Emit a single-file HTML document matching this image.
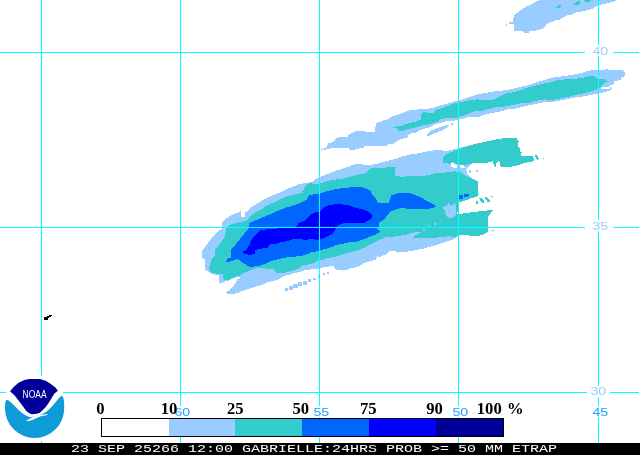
<!DOCTYPE html>
<html>
<head>
<meta charset="utf-8">
<title>GABRIELLE 24HRS PROB &gt;= 50 MM ETRAP</title>
<style>
html,body{margin:0;padding:0;background:#fff;}
body{width:640px;height:455px;overflow:hidden;position:relative;font-family:"Liberation Sans",sans-serif;}
svg{position:absolute;left:0;top:0;display:block;}
.g{stroke:#00ffff;stroke-width:1;shape-rendering:crispEdges;fill:none;}
.lon{font-family:"Liberation Sans",sans-serif;font-size:10.6px;fill:#1e9eff;}
.lat{font-family:"Liberation Sans",sans-serif;font-size:10.6px;fill:#99ccff;}
.lg{font-family:"Liberation Serif",serif;font-weight:bold;font-size:16px;fill:#000;text-anchor:middle;}
.bar{font-family:"Liberation Mono",monospace;font-size:11.6px;fill:#fff;}
.noaa{font-family:"Liberation Sans",sans-serif;font-size:10.5px;fill:#fff;}
</style>
</head>
<body>
<svg width="640" height="455" viewBox="0 0 640 455">
<rect width="640" height="455" fill="#ffffff"/>
<g id="blobs" shape-rendering="crispEdges">
<polygon fill="#99ccff" points="540,0 535,1.9 531.25,4.4 526.9,6.25 522.5,8.75 518.75,11.9 515,14.4 513,18.75 512.5,21.9 509.4,22.5 509.4,24 513.5,23.5 514.4,31.25 522.5,31.25 525,33 528.75,33 529.4,31.25 535.6,31.25 536.25,30 541.25,29.4 545,26.9 546.25,24.4 550,22.5 555,20.6 560,19.4 563.75,16.9 567.5,15 572.5,14.4 576.25,12.5 580,11.9 587.5,10 592.5,8.75 597.5,5.6 605,3.75 612.5,1.9 617.5,0"/>
<polygon fill="#99ccff" points="506,24 507,24 507,26 506,26"/>
<polygon fill="#33cccc" points="572,5 574,4 577,1 580,0.5 580,4 577,5"/>
<polygon fill="#33cccc" points="555,8 558,5 560,4.5 561,6 560,8.5"/>
<polygon fill="#33cccc" points="584,0 591,0 590,2 585,1.5"/>
<polygon fill="#99ccff" points="321,149 326,148 328.5,143 331,143 334.75,140.6 336,138.75 339,136.9 347.9,136.9 348.5,135 352.25,133 356,131.25 363.5,130.6 366,132.5 374.75,131.9 375.4,128 376,123 381,121.9 382.25,120.6 387.25,119.4 391,116.9 396.25,115 402.5,113 410,110 418.75,109.4 427.5,108.75 433.75,107.5 440,105.6 447.5,103.75 455,101.25 462.5,99.4 467.5,97.5 471.25,96.25 477.5,94.4 485,93 495,91.25 502.5,90.6 510,89.4 520,86.9 526.25,85.6 532.5,83.75 540,81.25 546.25,79.4 550,78 557.5,76.9 567.5,75.6 575,74.4 582.5,72.5 591.25,70 600,70 606.25,69.4 615,70 622.5,70 625,72.5 625.6,76.25 621.9,76.9 621.25,79.4 617.5,80.6 613.75,81.25 613.75,84.4 610,85 609,86.5 611.9,88 611.25,90 606.25,91.9 600,93 593.75,94.4 587.5,95.6 581.25,96.9 575,97.5 568.75,98.75 562.5,100 556.25,101.25 550,102.5 545,101.9 537.5,103.75 530,105 522.5,106.9 515,108.75 507.5,109.4 501.25,111.25 492.5,113 485,114.4 478.75,116.9 470,116.9 465,118 458.75,119.4 452.5,121.25 446.25,121.25 440,123 433.75,125 427.5,128 423.75,128.75 420,130 416.25,132.5 410,133.75 406.25,138 401.25,138.75 396.25,141.9 392.25,144.4 388.5,144.4 386,146.25 382.25,145.6 372.25,146.25 364,146.25 363.5,148 356,148.75 353.5,150 349,150 348.5,148 341,148 332.25,148 326,149.5 321,150"/>
<polygon fill="#ffffff" points="601.5,87.6 606,87 610.5,87.6 610,89.2 601,89.4"/>
<polygon fill="#99ccff" points="427,134 431,130.5 436,128.5 441,127 447.5,124.5 449,125.5 444,129.5 438,132 433,134 429,136 427,135.5"/>
<polygon fill="#99ccff" points="451,123 453,123 453,125 451,125"/>
<polygon fill="#33cccc" points="392.5,127 402.5,125.6 408.75,123 415,121.9 421.25,119.4 421.25,113.75 423.75,111.9 430,113 434.4,113 435,110 442.5,108 448.75,105.6 455,103 462.5,101.9 470,100 477.5,99.4 485,100 495,99.4 500,96.25 505,93.75 512.5,92.5 520,90.6 526.25,88 532.5,86.25 540,84.4 546.25,83 550,82.5 557.5,80 565,79.4 575,78.75 581.25,78 586.25,76.9 591.25,75.6 595,76.25 597.5,78.75 603.75,78.75 606.25,80.6 608.75,81.25 605,82.5 602.5,85 600,87.5 597.5,88.75 593.75,90.6 587.5,92.5 581.25,93.75 575,95 568.75,96.9 562.5,98 556.25,99.4 550,100 545,99.4 537.5,100.6 530,102.5 522.5,103 515,104.4 507.5,106.25 501.25,106.9 495,107.5 490,108.75 482.5,110.6 475,111.25 470,113 465,115 461.25,116.25 455,118 446.25,118 440,119.4 437.5,121.9 431.25,123.75 425,125 417.5,126.9 410,128.75 403.75,130.6 398.75,131.25 397,128.5 392.5,128"/>
<polygon fill="#99ccff" points="201.9,258 201.9,251 207.5,243.75 212.5,236.9 217.5,231.9 221.9,228.75 222.25,222.5 227.5,217.5 233.75,213.75 240,211.9 240.6,210.6 241.5,217 245,217 245,212 246.25,212.5 250,208 255,205 260,201.9 262.5,200 271,196 280,192.4 285,189.9 292.5,186.75 298.75,184.25 306.25,183 312.5,181.75 317.5,178 322.5,176 330,173 336.25,170.5 342.5,168.6 350,166 355,164.25 360,164.25 367.5,164.9 376.25,164.25 381.25,162.4 388.75,160.5 396.25,158.6 403.75,156 411.25,154.25 420,153 428.75,151 436.25,150 443.75,150.6 448.75,150.6 456.25,148.75 466.25,146.25 480,142.5 480,160 472,163.5 468.5,167 466.25,170 467.5,173.75 471.25,178 477.5,181 478,192 478.75,194.4 476.25,196.9 471.25,198 466.25,200 462.5,201.25 459.4,202.5 458.75,207.5 456.9,214.4 461.25,213.75 467.5,213 473.75,211.9 480,211.25 486.25,210.6 493,210 490,213.75 487.5,217.5 488,221.25 487.5,225 487.5,231.9 482.5,235 475,236.25 470,235.6 462.5,235 457.5,235.6 456.25,238 450,240.6 442.5,243 435,245.6 427.5,247.5 422.5,248.75 416.25,250 410,251.25 403.75,251.9 397.5,252.5 393.75,250.6 390,250.6 386.25,254.4 380,256.9 376.9,256.25 376.25,259.4 370,261.25 363.75,263 360,265.6 355,267.5 351.25,268 347.5,270 342.5,270.6 335,269.4 333.75,266.25 330,266.25 322.5,267.5 317.5,268.75 311.25,269.4 305,270 300,271.9 295,273 290,274.4 283.75,276.25 280,278.75 275,280.6 267.5,282.5 260,285.6 252.5,287.5 245,290 237.5,293 230,294.4 225,293 231.25,288.75 235,283.75 237.5,279.4 240.6,276.9 237.5,276.9 232.5,278.75 228.75,280.6 225,281.25 222.5,282.75 218.75,282.5 219.4,278 218.75,275 212.5,274.4 208,271.25 205,270 205,259.4"/>
<polygon fill="#33cccc" points="209.4,266 211.9,259 215,255.6 215,250 220,243.75 224.4,237.5 225.6,232.5 226.25,228 230,225 235,223 241.25,221.9 247.5,220 251.25,215 256.25,211.9 262.5,208.75 267.5,205 272.5,203 280,199.25 286.25,196.75 292.5,194.9 301.25,193 303.75,189.25 306.25,184.9 310,183 312.5,183.6 320,183.6 325,181.75 332.5,179.9 342.5,178.6 350,176.75 357.5,174.9 360,174.25 366.25,173 368.75,169.25 375,167.4 382.5,168 390,166.75 395.6,167.4 395,171.75 395.6,176 402.5,176.75 410,176 417.5,176 425,175.75 432.5,174.25 435,173 442.5,173 448.75,171.9 455,171.25 458.75,171.9 462.5,173 466.25,176.25 471.25,178 477.5,181 478,192 478.75,194.4 476.25,196.9 471.25,198 466.25,200 462.5,201.25 459.4,202.5 458.75,207.5 456.9,214.4 461.25,213.75 467.5,213 473.75,211.9 480,211.25 486.25,210.6 493,210 490,213.75 487.5,217.5 488,221.25 487.5,225 487.5,231.9 482.5,235 475,236.25 470,235.6 462.5,235 457.5,235.6 456.25,237.5 450,236.25 442.5,236.9 435,237.75 427.5,238 418.75,238 413,237.5 415,235.6 421.25,232.25 413.75,232.5 407.5,234.4 400,235.6 392.5,236.9 385,237.5 378.75,240 372.5,243 366.25,246.9 360,249.4 355,251.25 347.5,253 340,255 335,256.9 327.5,258 322.5,260 317.5,260.6 315,262.5 308.75,264.4 302.5,265.6 298.75,268.75 292.5,270.6 287.5,271.9 283.75,273 280,273 276.25,272.5 273.75,269.4 267.5,268.75 260,268 253.75,268.75 247.5,271.9 241.25,273.75 240,275.6 233.75,276.9 230,279.4 226.25,280 223,279.4 222.5,274.4 216.25,273.75 212.5,272.5 209.4,270"/>
<polygon fill="#33cccc" points="443,160 443.75,156.25 448.75,153 455,150.6 461.25,148 467.5,146.25 473.75,144.4 480,143 487.5,141.25 496.25,139.4 505,138 516.25,138 518.75,141.25 517.5,145 520,148.75 520.6,152.5 523,150 521.25,153.75 520.6,156.25 532.5,156 533.75,158 533.75,161.25 528.75,161.9 522.5,163.75 516.25,165.6 510,166.9 502.5,167.5 500,166.25 499.4,160.6 496.5,163 495.5,166.9 493.75,165 492.5,161.25 487.5,162.5 480,163 475,163 470,163.75 465,165 458.75,164.4 452.5,162.5 448.75,163.75 443,162.5"/>
<polygon fill="#33cccc" points="535,155 537,155 538.75,158 538,160.6 536,159"/>
<polygon fill="#33cccc" points="542.5,158 543.5,158 543.5,159 542.5,159"/>
<polygon fill="#33cccc" points="475.5,200.5 477.5,201.5 478.5,204 476.5,204 475.5,202"/>
<polygon fill="#33cccc" points="479,197.5 481.5,198.5 484,201 484,203 482,203 480,200.5"/>
<polygon fill="#33cccc" points="484.5,196.5 487,197.5 489.5,200 489.5,201.5 487.5,201.5 485.5,199"/>
<polygon fill="#33cccc" points="491,195.5 492.5,195.5 492.5,197 491,197"/>
<polygon fill="#33cccc" points="492,230 494,230 494,231 492,231"/>
<polygon fill="#0066ff" points="226.25,262.5 226.9,258.75 230.6,257.5 230.6,250 236.25,243.75 241.25,237.5 246.25,231.25 248.75,228 249.4,223 255,220.6 262.5,217.5 270,214.4 276.25,211.25 280,210 286.25,207.5 292.5,205.6 298.75,203.75 305,200.6 306.9,199.9 308.75,195.5 313.75,194.25 320,193.6 325,191.75 335,189.25 342.5,188 350,187.4 357.5,186.75 360,186.75 365,188 370,190.5 372.5,195.5 376.25,199.25 378,203 389,203 391.25,195.5 396.25,193.6 403.75,193 412.5,193.6 417.5,196 422.5,198 425,200 427.5,201.25 432.5,203.75 436.25,206.25 433.75,208 427.5,208.75 418.75,208.75 410,209.4 402.5,207.5 396.25,209.4 390,211.9 386.25,216.25 385,218.75 378.75,223 378.75,226.9 376.9,228.75 380.6,231.25 378.75,232.5 376.25,234.4 370,236.25 365,238.75 360,240.6 355,241.9 347.5,242.5 342.5,243.75 335,245.6 330,247.5 323.75,249.4 317.5,251.25 311.25,252.5 305,255 298.75,256.25 292.5,256.9 286.25,257.5 280,258.75 275,260 270,261.25 265,263.75 260,265.6 255,266.25 250,267.5 247.5,265.6 242.5,262.5 237.5,258.75 231.25,261.25"/>
<polygon fill="#0066ff" points="459.4,195 462.5,195 462.5,198.75 459.4,198.75"/>
<polygon fill="#0066ff" points="463.75,194 468.75,193.5 469,196 466,197.5 464,196.5"/>
<polygon fill="#0000ff" points="242.5,251.25 246.25,250 250,243.75 252.5,237.5 256.25,233.75 260,230 267.5,229.4 275,229 280,228 296.25,226.9 298.75,223 305,220.6 310,215 315,212.5 320,211.25 322.5,208.75 327.5,205.6 335,204.4 342.5,204.4 350,205.6 355,207.5 360,208.75 366.25,210.6 371.25,213.75 372.5,217.5 368.75,220 363.75,223 360,223.5 352.5,223 345,223 338.75,225 336.25,227.5 335,230 332.5,233.75 327.5,236.25 322.5,238.75 317.5,240 311.25,238.75 305,240 298.75,238.75 292.5,239.4 286.25,241.25 280,242.5 275,244 270,243.75 267.5,247.5 260,248.75 255,250 255,253.75 250,255 243.75,253.75"/>
<polygon fill="#99ccff" points="441.9,207.5 446.25,206.25 448.75,203 451.25,206.25 455,202.5 456.25,207.5 456.25,213.75 452.5,217.5 448.75,218 445.6,215 445,210"/>
<polygon fill="#99ccff" points="422.5,229 425,229 425,231 422.5,231"/>
<polygon fill="#99ccff" points="428,224.5 430,224.5 430,226 428,226"/>
<polygon fill="#99ccff" points="434,223 435.5,223 435.5,224.5 434,224.5"/>
<polygon fill="#99ccff" points="469,170 471,170 471,172.5 469,172.5"/>
<polygon fill="#99ccff" points="476,169.5 478,169.5 478,171.5 476,171.5"/>
<polygon fill="#fefefe" points="451,163 453,162 455,165 457,165.5 457,168 454,168 451.5,166.5"/>
<polygon fill="#fefefe" points="460,165 464,165.5 465,168 461,168"/>
<rect x="285" y="288" width="3" height="2.5" fill="#99ccff"/>
<rect x="289" y="285.5" width="4" height="4" fill="#99ccff"/>
<rect x="293" y="284" width="5" height="4" fill="#99ccff"/>
<rect x="298" y="282" width="3.5" height="3.5" fill="#99ccff"/>
<rect x="303" y="280.5" width="3.5" height="4" fill="#99ccff"/>
<rect x="308" y="279" width="3" height="3" fill="#99ccff"/>
<rect x="313" y="277.5" width="3" height="2.5" fill="#99ccff"/>
<rect x="318" y="275" width="1.5" height="3" fill="#99ccff"/>
<rect x="323" y="273" width="1.5" height="1.5" fill="#99ccff"/>
<rect x="327" y="271.5" width="2" height="2.5" fill="#99ccff"/>
</g>
<!-- grid -->
<g class="g">
<path d="M41.5 0V443M180.5 0V443M319.5 0V443M458.5 0V443M598.5 0V443"/>
<path d="M0 52.5H639M0 227.5H639M0 392.5H639"/>
</g>
<!-- label knock-outs -->
<g fill="#ffffff" shape-rendering="crispEdges">
<rect x="585" y="45" width="28" height="11"/>
<rect x="585" y="220" width="28" height="11"/>
<rect x="587" y="386" width="23" height="11"/>
<rect x="174" y="406" width="17" height="11"/>
<rect x="312" y="406" width="17" height="11"/>
<rect x="451" y="406" width="17" height="11"/>
<rect x="591" y="406" width="17" height="11"/>
<rect x="6" y="376" width="57" height="65"/>
</g>
<g>
<text class="lat" x="592.4" y="55" textLength="15.8" lengthAdjust="spacingAndGlyphs">40</text>
<text class="lat" x="592.4" y="230" textLength="15.8" lengthAdjust="spacingAndGlyphs">35</text>
<text class="lat" x="590.4" y="395" textLength="15.8" lengthAdjust="spacingAndGlyphs">30</text>
<text class="lon" x="174.4" y="416" textLength="15.8" lengthAdjust="spacingAndGlyphs">60</text>
<text class="lon" x="313.4" y="416" textLength="15.8" lengthAdjust="spacingAndGlyphs">55</text>
<text class="lon" x="452.4" y="416" textLength="15.8" lengthAdjust="spacingAndGlyphs">50</text>
<text class="lon" x="592.4" y="416" textLength="15.8" lengthAdjust="spacingAndGlyphs">45</text>
</g>
<!-- island -->
<path d="M44 317h3v-1h2v-1h3v1h-1v1h-2v1h-1v2h-4z" fill="#000" shape-rendering="crispEdges"/>
<!-- legend -->
<g shape-rendering="crispEdges">
<rect x="101" y="418" width="403" height="18" fill="#fff"/>
<rect x="169" y="418" width="66" height="18" fill="#99ccff"/>
<rect x="235" y="418" width="67" height="18" fill="#33cccc"/>
<rect x="302" y="418" width="67" height="18" fill="#0066ff"/>
<rect x="369" y="418" width="67" height="18" fill="#0000ff"/>
<rect x="436" y="418" width="68" height="18" fill="#000099"/>
<path d="M101.5 418V437M503.5 418V437M101 418.5H504M101 436.5H504" stroke="#000" stroke-width="1" fill="none"/>
</g>
<g class="lg">
<text transform="translate(100.5 414) scale(1.04 1)" x="0" y="0">0</text>
<text transform="translate(169.1 414) scale(1.04 1)" x="0" y="0">10</text>
<text transform="translate(235.25 414) scale(1.04 1)" x="0" y="0">25</text>
<text transform="translate(300.75 414) scale(1.04 1)" x="0" y="0">50</text>
<text transform="translate(368.25 414) scale(1.04 1)" x="0" y="0">75</text>
<text transform="translate(434.5 414) scale(1.04 1)" x="0" y="0">90</text>
<text transform="translate(489.25 414) scale(1.04 1)" x="0" y="0">100</text>
<text transform="translate(515.25 414) scale(1.04 1)" x="0" y="0">%</text>
</g>
<!-- NOAA logo -->
<g id="logo">
<path d="M5.2 403.1 L5.9 400.2 L7.9 400 L10.8 402.2 L14.7 406 L18.5 409.9 L22.4 413.3 L26.3 415.7 L30.2 417.2 L35 416.4 L40.8 414.6 L44.7 412.8 L48.6 409.9 L52.5 406 L56.3 401.2 L59.2 397.8 L61.2 395.9 L63.1 396.8 A29.6 29.6 0 0 1 64.2 408.4 A29.6 29.6 0 0 1 5 408.4 Z" fill="#0f9ad8"/>
<path d="M10 391.3 L13.7 387.1 L18.5 382.8 L24.3 379.9 L29.2 378.9 L39.9 378.9 L45.7 380.8 L50.5 383.8 L55.4 387.6 L57.9 390.7 L54.4 393.4 L51.5 398.3 L48.6 403.1 L45.7 407 L42.8 409.9 L39.9 412.8 L36.9 413.8 L32.1 414.3 L29.2 413.3 L26.3 410.9 L23.4 407 L20.5 403.1 L17.6 399.3 L14.7 395.4 Z" fill="#000099"/>
<path d="M26.3 420.6 L30 418.6 L34 416.6 L39 415 L47.4 414 L47.4 415 L41 416.3 L36.5 418 L32 420.3 L27 421.2 Z" fill="#ffffff"/>
<text class="noaa" x="22.6" y="398" textLength="24" lengthAdjust="spacingAndGlyphs">NOAA</text>
</g>
<!-- bottom bar -->
<rect x="0" y="443" width="640" height="12" fill="#000" shape-rendering="crispEdges"/>
<text class="bar" x="71" y="452" textLength="486" lengthAdjust="spacingAndGlyphs" xml:space="preserve">23 SEP 25266 12:00 GABRIELLE:24HRS PROB &gt;= 50 MM ETRAP</text>
</svg>
</body>
</html>
